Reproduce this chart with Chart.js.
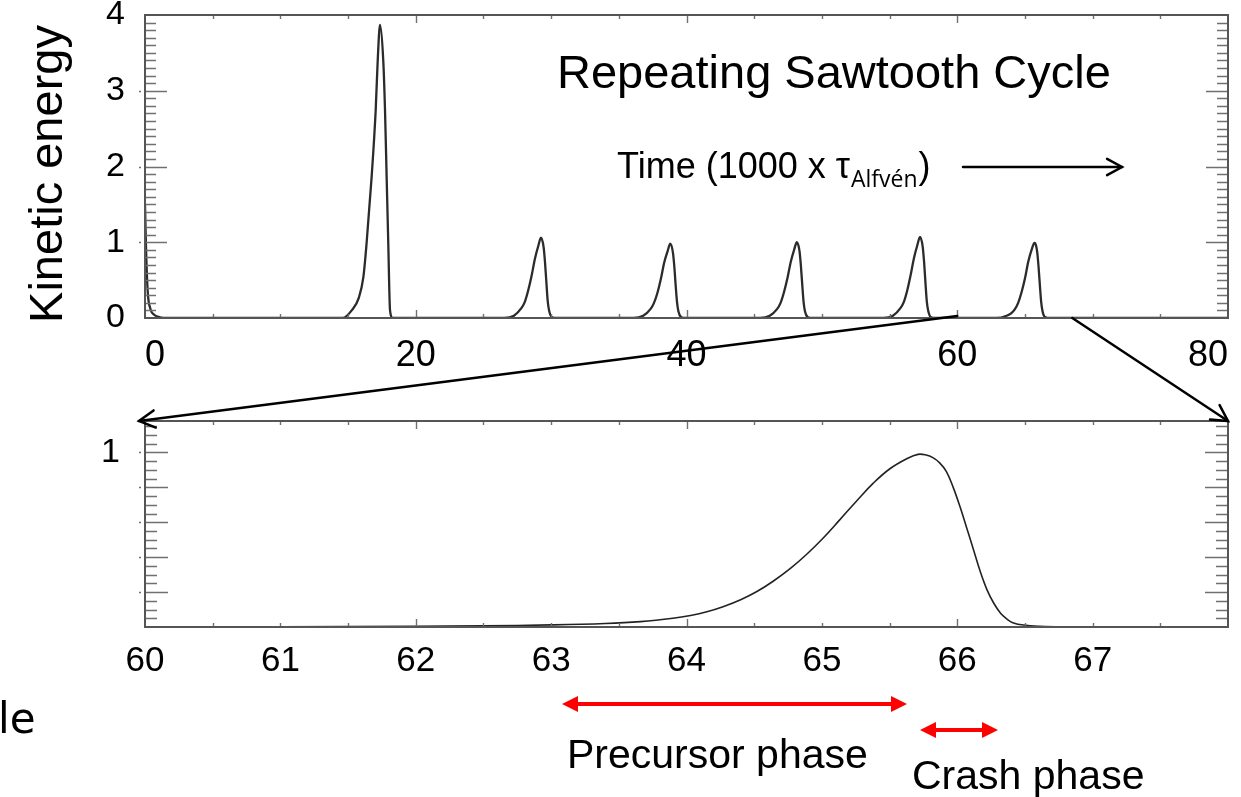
<!DOCTYPE html>
<html>
<head>
<meta charset="utf-8">
<script src="https://cdn.jsdelivr.net/npm/chart.js@4.4.1/dist/chart.umd.min.js"></script>
<style>
  html, body { margin: 0; padding: 0; background: #fff; overflow: hidden; }
  canvas { position: absolute; left: 0; top: 0; }
</style>
</head>
<body>
<canvas id="topChart" width="1241" height="797"></canvas>
<canvas id="zoomChart" width="1241" height="797"></canvas>
<script>
// Kinetic energy over the whole run, time in 1000 x tau_Alfven (one line per crash)
const topTime = [
  0, 0.08, 0.2, 0.4, 0.7, 1.1, 1.6,
  14.6, 15.27, 15.8, 16.13, 16.37, 16.74, 17.04, 17.19, 17.36, 17.6, 17.73, 17.85, 17.97, 18.1, 18.3,
  26.55, 27.25, 27.8, 28.05, 28.3, 28.55, 28.8, 29.05, 29.25, 29.45, 29.55, 29.65, 29.75, 29.85, 30.05, 30.25,
  36.1, 36.8, 37.35, 37.6, 37.85, 38.1, 38.35, 38.6, 38.8, 39.0, 39.1, 39.2, 39.3, 39.4, 39.6, 39.8,
  45.45, 46.15, 46.7, 46.95, 47.2, 47.45, 47.7, 47.95, 48.15, 48.35, 48.45, 48.55, 48.65, 48.75, 48.95, 49.15,
  54.55, 55.25, 55.8, 56.05, 56.3, 56.55, 56.8, 57.05, 57.25, 57.45, 57.55, 57.65, 57.75, 57.85, 58.05, 58.25,
  62.9, 63.65, 64.0, 64.26, 64.5, 64.75, 65.0, 65.24, 65.49, 65.7, 65.8, 65.9, 66.0, 66.1, 66.2, 66.3, 66.4, 66.53, 66.7, 80
];
const topEnergy = [
  1.5, 0.9, 0.35, 0.12, 0.04, 0.01, 0,
  0, 0.1, 0.27, 0.54, 0.99, 1.86, 2.74, 3.4, 3.87, 3.4, 2.74, 1.86, 0.99, 0.1, 0,
  0, 0.03, 0.13, 0.21, 0.36, 0.55, 0.78, 0.95, 1.06, 0.93, 0.73, 0.47, 0.22, 0.1, 0.01, 0,
  0, 0.03, 0.12, 0.2, 0.33, 0.51, 0.73, 0.88, 0.98, 0.86, 0.68, 0.43, 0.21, 0.09, 0.01, 0,
  0, 0.03, 0.12, 0.2, 0.34, 0.52, 0.74, 0.9, 1.0, 0.88, 0.69, 0.44, 0.21, 0.09, 0.01, 0,
  0, 0.03, 0.13, 0.21, 0.36, 0.56, 0.79, 0.96, 1.07, 0.94, 0.74, 0.47, 0.22, 0.1, 0.01, 0,
  0, 0.03, 0.065, 0.117, 0.2, 0.34, 0.52, 0.74, 0.9, 0.99, 0.97, 0.88, 0.69, 0.44, 0.21, 0.09, 0.03, 0.01, 0, 0
];

// Zoom on the last crash
const zoomTime = [60, 61, 62, 62.5, 63, 63.4, 63.66, 63.9, 64.03, 64.15, 64.27, 64.4, 64.52, 64.64,
  64.77, 64.89, 65.01, 65.13, 65.26, 65.38, 65.5, 65.63, 65.71, 65.77, 65.82, 65.87, 65.92, 65.97,
  66.02, 66.07, 66.12, 66.17, 66.22, 66.27, 66.32, 66.37, 66.41, 66.49, 66.61, 66.8, 67.2, 68];
const zoomEnergy = [0, 0.001, 0.004, 0.007, 0.012, 0.02, 0.031, 0.05, 0.066, 0.087, 0.116, 0.156, 0.203, 0.262,
  0.337, 0.418, 0.51, 0.612, 0.725, 0.824, 0.905, 0.965, 0.989, 0.985, 0.97, 0.94, 0.89, 0.8,
  0.69, 0.567, 0.443, 0.318, 0.213, 0.136, 0.079, 0.044, 0.025, 0.011, 0.004, 0.001, 0, 0];

// Tick labels
const topXTicks = [0, 20, 40, 60, 80];
const topYTicks = [0, 1, 2, 3, 4];
const zoomXTicks = [60, 61, 62, 63, 64, 65, 66, 67];
const zoomYTicks = [1];

// window of the top chart shown below
const zoomFrom = 60;
const zoomTo = 68.5;

const FONT = '"Liberation Sans", Arial, sans-serif';

// IDL-like box with inward ticks on every side
function drawFrame(chart, f) {
  const { ctx, chartArea: a } = chart;
  const x = chart.scales.x, y = chart.scales.y;
  ctx.save();
  ctx.strokeStyle = '#707070';
  ctx.lineWidth = 1.4;
  ctx.beginPath();
  const ny = Math.round((y.max - y.min) / f.yStep);
  for (let i = 1; i <= ny; i++) {
    const py = Math.round(y.getPixelForValue(y.min + i * f.yStep)) + 0.5;
    if (py <= a.top + 1) continue;
    const len = i % f.yMajorEvery === 0 ? f.yMajor : f.yMinor;
    ctx.moveTo(a.left, py); ctx.lineTo(a.left + len, py);
    ctx.moveTo(a.right, py); ctx.lineTo(a.right - len, py);
    if (i % f.yMajorEvery === 0) { ctx.moveTo(a.left - 6, py); ctx.lineTo(a.left - 4, py); }
  }
  const nx = Math.round((x.max - x.min) / f.xStep);
  for (let i = 1; i < nx; i++) {
    const px = Math.round(x.getPixelForValue(x.min + i * f.xStep)) + 0.5;
    const len = i % f.xMajorEvery === 0 ? f.xMajor : f.xMinor;
    ctx.moveTo(px, a.top); ctx.lineTo(px, a.top + len);
    ctx.moveTo(px, a.bottom); ctx.lineTo(px, a.bottom - len);
  }
  ctx.stroke();
  ctx.strokeStyle = '#555';
  ctx.lineWidth = 2;
  ctx.strokeRect(a.left, a.top, a.right - a.left, a.bottom - a.top);
  ctx.restore();
}

function axisOptions(min, max, ticksList, size, pad, fitKey, fitVal, align) {
  return {
    type: 'linear', min: min, max: max,
    grid: { display: false, drawTicks: false },
    border: { display: false },
    afterBuildTicks: s => { s.ticks = ticksList.map(v => ({ value: v })); },
    afterFit: s => {
      s[fitKey] = fitVal;
      s.paddingLeft = 0; s.paddingRight = 0; s.paddingTop = 0; s.paddingBottom = 0;
    },
    ticks: { color: '#000', font: { family: FONT, size: size }, padding: pad, align: align || 'center',
             autoSkip: false, maxRotation: 0, callback: v => String(v) }
  };
}

const topChart = new Chart(document.getElementById('topChart'), {
  type: 'line',
  data: {
    datasets: [{
      data: topTime.map((t, i) => ({ x: t, y: topEnergy[i] })),
      borderColor: '#2b2b2b', borderWidth: 2.3, pointRadius: 0,
      cubicInterpolationMode: 'monotone', fill: false
    }]
  },
  options: {
    responsive: false, animation: false,
    layout: { padding: { left: 0, right: 13, top: 15, bottom: 419 } },
    plugins: { legend: { display: false }, tooltip: { enabled: false } },
    scales: {
      x: axisOptions(0, 80, topXTicks, 36, 16, 'height', 60, 'inner'),
      y: axisOptions(0, 4, topYTicks, 34, 20, 'width', 145)
    }
  },
  plugins: [{
    id: 'frameTop',
    afterDatasetsDraw: c => drawFrame(c, { yStep: 0.1, yMajorEvery: 10, yMajor: 22, yMinor: 11,
                                           xStep: 5, xMajorEvery: 4, xMajor: 8, xMinor: 4 })
  }]
});

function openHead(ctx, x1, y1, x2, y2, len) {
  const ang = Math.atan2(y2 - y1, x2 - x1);
  ctx.beginPath();
  ctx.moveTo(x2 - len * Math.cos(ang - 0.5), y2 - len * Math.sin(ang - 0.5));
  ctx.lineTo(x2, y2);
  ctx.lineTo(x2 - len * Math.cos(ang + 0.5), y2 - len * Math.sin(ang + 0.5));
  ctx.stroke();
}

function redArrow(ctx, x1, x2, y) {
  ctx.save();
  ctx.strokeStyle = '#ff0000'; ctx.fillStyle = '#ff0000';
  ctx.lineWidth = 4;
  ctx.beginPath(); ctx.moveTo(x1 + 10, y); ctx.lineTo(x2 - 10, y); ctx.stroke();
  ctx.beginPath();
  ctx.moveTo(x1, y); ctx.lineTo(x1 + 16, y - 8); ctx.lineTo(x1 + 16, y + 8); ctx.closePath();
  ctx.moveTo(x2, y); ctx.lineTo(x2 - 16, y - 8); ctx.lineTo(x2 - 16, y + 8); ctx.closePath();
  ctx.fill();
  ctx.restore();
}

const annotations = {
  id: 'annotations',
  afterDraw: c => {
    const ctx = c.ctx;
    const a = c.chartArea;
    const ta = topChart.chartArea;
    const tx = topChart.scales.x;
    ctx.save();
    ctx.fillStyle = '#000';
    ctx.textBaseline = 'alphabetic';

    ctx.font = '47px ' + FONT;
    ctx.fillText('Repeating Sawtooth Cycle', 557, 88);

    // time label with subscript
    ctx.font = '36px ' + FONT;
    const main = 'Time (1000 x \u03C4';
    ctx.fillText(main, 617, 178);
    let px = 617 + ctx.measureText(main).width + 1;
    ctx.font = '23px "Open Sans", ' + FONT;
    ctx.fillText('Alfv\u00E9n', px, 187);
    px += ctx.measureText('Alfv\u00E9n').width + 1;
    ctx.font = '36px ' + FONT;
    ctx.fillText(')', px, 178);

    ctx.strokeStyle = '#000';
    ctx.lineWidth = 2.5;
    ctx.lineCap = 'round';
    ctx.beginPath(); ctx.moveTo(963, 167); ctx.lineTo(1122, 167); ctx.stroke();
    openHead(ctx, 963, 167, 1122, 167, 17);

    // y title
    ctx.save();
    ctx.translate(62, 174);
    ctx.rotate(-Math.PI / 2);
    ctx.textAlign = 'center';
    ctx.font = '47px ' + FONT;
    ctx.fillText('Kinetic energy', 0, 0);
    ctx.restore();

    // zoom lines from the top chart to the lower one
    const x1 = tx.getPixelForValue(zoomFrom), x2 = tx.getPixelForValue(zoomTo);
    ctx.lineWidth = 2.5;
    ctx.beginPath(); ctx.moveTo(x1, ta.bottom - 2); ctx.lineTo(a.left - 6, a.top); ctx.stroke();
    openHead(ctx, x1, ta.bottom - 2, a.left - 6, a.top, 18);
    ctx.beginPath(); ctx.moveTo(x2, ta.bottom); ctx.lineTo(a.right, a.top); ctx.stroke();
    openHead(ctx, x2, ta.bottom, a.right, a.top, 18);

    // phases
    redArrow(ctx, 562, 907, 704);
    redArrow(ctx, 920, 998, 730);
    ctx.font = '41px ' + FONT;
    ctx.fillText('Precursor phase', 567, 768);
    ctx.fillText('Crash phase', 912, 789);

    ctx.font = '42px "DejaVu Sans", sans-serif';
    ctx.fillText('le', -2, 733);
    ctx.restore();
  }
};

new Chart(document.getElementById('zoomChart'), {
  type: 'line',
  data: {
    datasets: [{
      data: zoomTime.map((t, i) => ({ x: t, y: zoomEnergy[i] })),
      borderColor: '#222', borderWidth: 1.6, pointRadius: 0,
      tension: 0.4, fill: false
    }]
  },
  options: {
    responsive: false, animation: false,
    layout: { padding: { left: 0, right: 13, top: 421, bottom: 110 } },
    plugins: { legend: { display: false }, tooltip: { enabled: false } },
    scales: {
      x: axisOptions(60, 68, zoomXTicks, 35, 13, 'height', 60),
      y: axisOptions(0, 1.18, zoomYTicks, 34, 25, 'width', 145)
    }
  },
  plugins: [{
    id: 'frameZoom',
    afterDatasetsDraw: c => drawFrame(c, { yStep: 0.05, yMajorEvery: 4, yMajor: 23, yMinor: 12,
                                           xStep: 0.5, xMajorEvery: 4, xMajor: 8, xMinor: 4 })
  }, annotations]
});
</script>
</body>
</html>
